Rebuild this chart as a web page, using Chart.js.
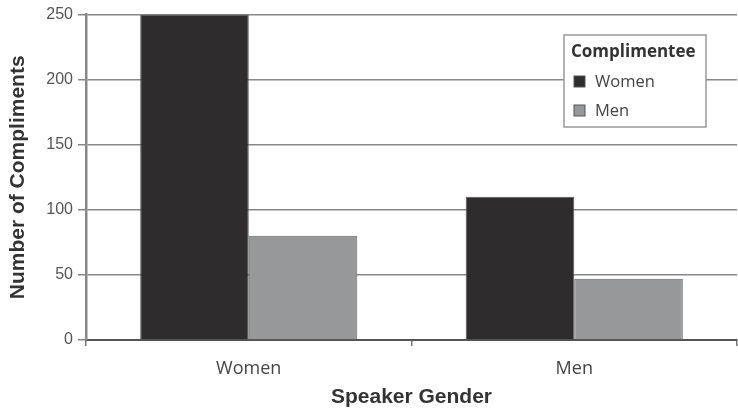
<!DOCTYPE html>
<html>
<head>
<meta charset="utf-8">
<script src="https://cdn.jsdelivr.net/npm/chart.js@4/dist/chart.umd.min.js"></script>
<style>
  html, body { margin: 0; padding: 0; background: #fff; }
  #wrap { width: 738px; height: 408px; }
</style>
</head>
<body>
<div id="wrap"><canvas id="myChart"></canvas></div>
<script>
// Speaker gender on the x axis
const speakers = ['Women', 'Men'];
// Compliments received, by complimentee gender
const toWomen = [250, 110];
const toMen = [80, 47];
const yTicks = [0, 50, 100, 150, 200, 250];

// Draws the boxed legend with its title in the top right
const legendBox = {
    id: 'legendBox',
    afterDraw(chart) {
        const ctx = chart.ctx;
        const x = 564, y = 35, w = 142, h = 92;
        ctx.save();
        ctx.fillStyle = '#fff';
        ctx.fillRect(x, y, w, h);
        ctx.strokeStyle = '#999';
        ctx.lineWidth = 1.5;
        ctx.strokeRect(x, y, w, h);
        ctx.fillStyle = '#333';
        ctx.textBaseline = 'middle';
        ctx.font = 'bold 17px "Open Sans"';
        ctx.fillText('Complimentee', x + 7, y + 17);
        chart.data.datasets.forEach((ds, i) => {
            const rowY = y + 47 + i * 29;
            ctx.fillStyle = ds.backgroundColor;
            ctx.fillRect(x + 10, rowY - 6, 11, 11);
            ctx.strokeStyle = '#555';
            ctx.lineWidth = 1;
            ctx.strokeRect(x + 10, rowY - 6, 11, 11);
            ctx.fillStyle = '#444';
            ctx.font = '16.5px "Open Sans"';
            ctx.fillText(ds.label, x + 31, rowY);
        });
        ctx.restore();
    }
};

const ctx = document.getElementById('myChart').getContext('2d');
new Chart(ctx, {
    type: 'bar',
    data: {
        labels: speakers,
        datasets: [
            {
                label: 'Women',
                data: toWomen,
                backgroundColor: '#2e2c2d',
                borderColor: '#555',
                borderWidth: 1,
                categoryPercentage: 0.667,
                barPercentage: 1
            },
            {
                label: 'Men',
                data: toMen,
                backgroundColor: '#97989a',
                borderColor: '#666',
                borderWidth: 1,
                categoryPercentage: 0.667,
                barPercentage: 1
            }
        ]
    },
    options: {
        responsive: true,
        maintainAspectRatio: false,
        animation: false,
        layout: { padding: { top: 12, right: 1, bottom: 0, left: 4 } },
        plugins: {
            legend: { display: false },
            tooltip: { enabled: false }
        },
        scales: {
            x: {
                grid: { drawOnChartArea: false, tickLength: 6, color: '#777', lineWidth: 1.5, offset: true },
                border: { color: '#555', width: 2 },
                ticks: { color: '#444', font: { family: '"Open Sans"', size: 18 }, padding: 12 },
                title: { display: true, text: 'Speaker Gender', color: '#333', font: { family: '"Liberation Sans"', size: 21, weight: 'bold', lineHeight: 1.05 }, padding: { top: 2, bottom: 0 } },
                afterFit: scale => { scale.height = 68; }
            },
            y: {
                min: 0,
                max: 250,
                afterBuildTicks: scale => { scale.ticks = yTicks.map(v => ({ value: v })); },
                grid: { color: '#888', lineWidth: 1.5, tickLength: 8 },
                border: { color: '#888', width: 2.5 },
                ticks: { color: '#555', font: { family: '"Liberation Sans"', size: 16 }, padding: 5 },
                title: { display: true, text: 'Number of Compliments', color: '#333', font: { family: '"Liberation Sans"', size: 21, weight: 'bold' }, padding: 2 },
                afterFit: scale => { scale.width = 82; }
            }
        }
    },
    plugins: [legendBox]
});
</script>
</body>
</html>
